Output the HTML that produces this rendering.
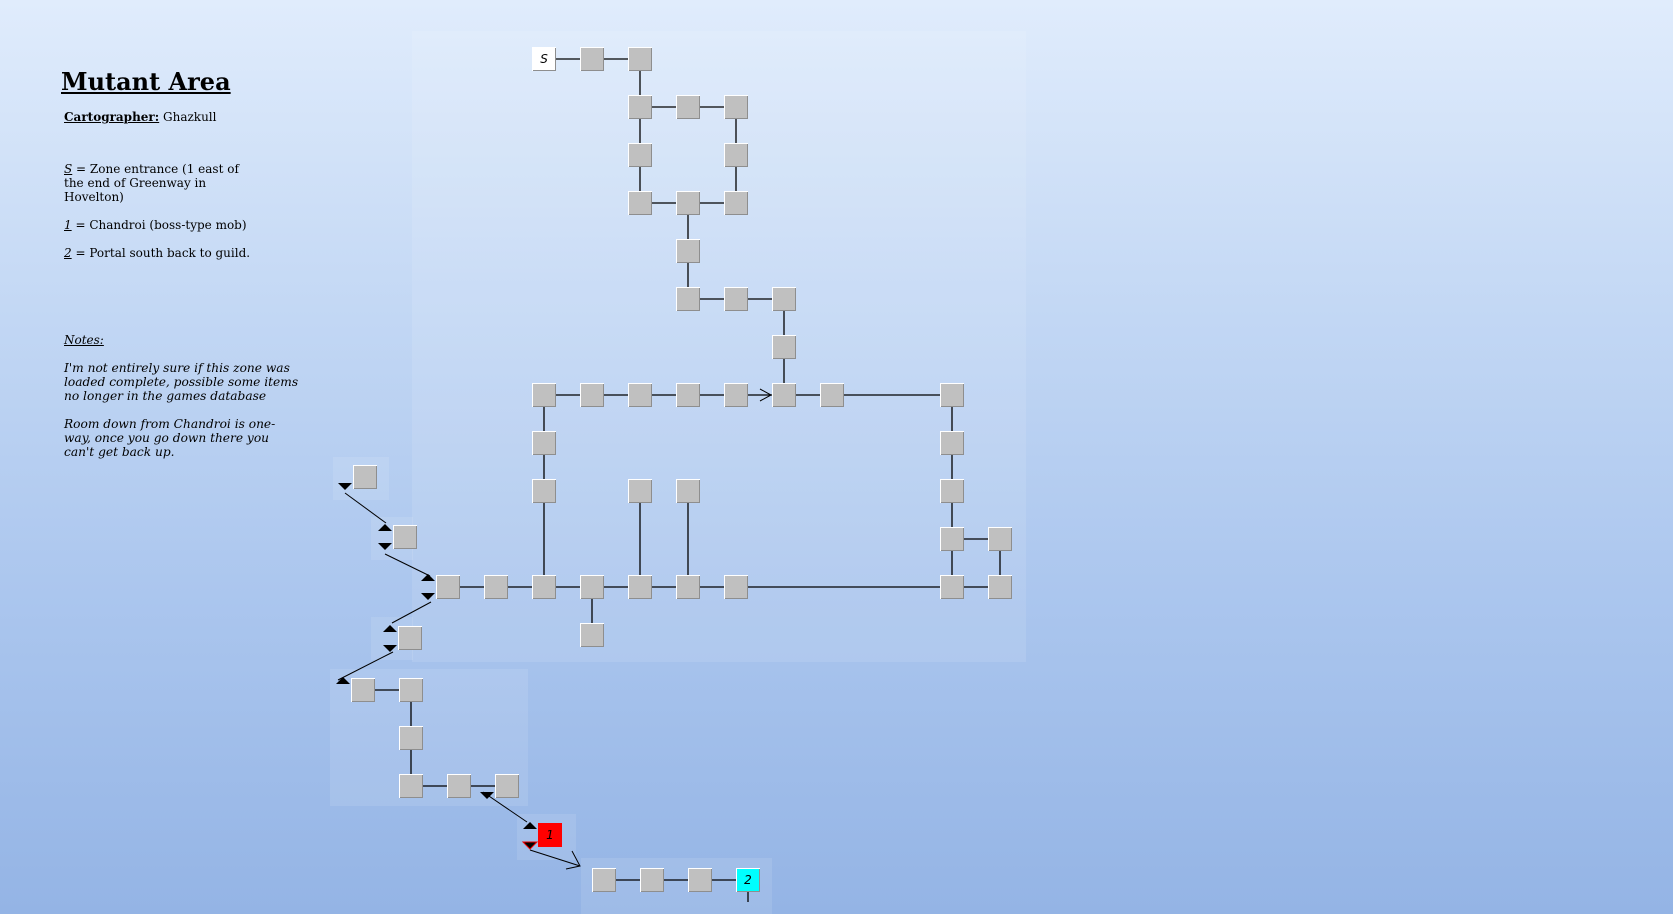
<!DOCTYPE html>
<html><head><meta charset="utf-8">
<style>
html,body{margin:0;padding:0}
body{width:1673px;height:914px;overflow:hidden;position:relative;background:linear-gradient(180deg,#e0ecfc 0%,#c2d7f4 35%,#abc6ee 65%,#94b4e5 100%);font-family:"DejaVu Serif","Liberation Serif",serif;color:#000}
.txt{position:absolute;left:64px;font-size:12px;line-height:14px}
h1{position:absolute;left:61px;top:67px;margin:0;font-size:24px;font-weight:bold;text-decoration:underline;font-family:"DejaVu Serif",serif;letter-spacing:0px}
i{font-style:italic}
svg{position:absolute;left:0;top:0}
</style></head><body>
<h1>Mutant Area</h1>
<div class="txt" style="top:110px"><b><u>Cartographer:</u></b> Ghazkull</div>
<div class="txt" style="top:162px"><u><i>S</i></u> = Zone entrance (1 east of<br>the end of Greenway in<br>Hovelton)</div>
<div class="txt" style="top:218px"><u><i>1</i></u> = Chandroi (boss-type mob)</div>
<div class="txt" style="top:246px"><u><i>2</i></u> = Portal south back to guild.</div>
<div class="txt" style="top:333px;font-style:italic"><u>Notes:</u></div>
<div class="txt" style="top:361px;font-style:italic;font-size:12.2px">I'm not entirely sure if this zone was<br>loaded complete, possible some items<br>no longer in the games database</div>
<div class="txt" style="top:417px;font-style:italic;font-size:12.2px">Room down from Chandroi is one-<br>way, once you go down there you<br>can't get back up.</div>

<svg id="map" width="1673" height="914"></svg>
<script>
const NS="http://www.w3.org/2000/svg";
const svg=document.getElementById('map');
function gx(c){return 436+48*c;}
function gy(r){return 47+48*r;}
const panels=[[412,31,614,631],[333,457,56,43],[371,517,42,43],[371,617,42,43],[330,669,198,137],[517,814,59,46],[581,858,191,56]];
const gridRooms=[[2,0,'S'],[3,0],[4,0],[4,1],[5,1],[6,1],[4,2],[6,2],[4,3],[5,3],[6,3],[5,4],[5,5],[6,5],[7,5],[7,6],
[2,7],[3,7],[4,7],[5,7],[6,7],[7,7],[8,7],[10.5,7],[2,8],[10.5,8],[2,9],[4,9],[5,9],[10.5,9],[10.5,10],[11.5,10],
[0,11],[1,11],[2,11],[3,11],[4,11],[5,11],[6,11],[10.5,11],[11.5,11],[3,12]];
const gridEdges=[[2,0,4,0],[4,0,4,3],[4,1,6,1],[6,1,6,3],[4,3,6,3],[5,3,5,5],[5,5,7,5],[7,5,7,7],[2,7,10.5,7],[2,7,2,11],[4,9,4,11],[5,9,5,11],
[10.5,7,10.5,11],[10.5,10,11.5,10],[11.5,10,11.5,11],[0,11,11.5,11],[3,11,3,12]];
const freeRooms=[[353,465],[393,525],[398,626],[351,678],[399,678],[399,726],[399,774],[447,774],[495,774],[538,823,'1'],[592,868],[640,868],[688,868],[736,868,'2']];
const freeEdges=[[363,690,411,690],[411,690,411,786],[411,786,507,786],[604,880,748,880],[748,892,748,902]];
const diagonals=[[345,493,386,523],[385,554,430,576],[431,602,392,623],[393,652,338,680],[483,792,527,822],[530,850,580,866]];
const tris=[[345,486,'d'],[385,528,'u'],[385,546,'d'],[428,578,'u'],[428,596,'d'],[390,629,'u'],[390,648,'d'],[343,681,'u'],[487,795,'d'],[530,826,'u'],[530,845,'r']];
function mk(t,a){const e=document.createElementNS(NS,t);for(const k in a)e.setAttribute(k,a[k]);svg.appendChild(e);return e;}
panels.forEach(p=>{const e=mk('rect',{x:p[0],y:p[1],width:p[2],height:p[3],fill:'rgba(255,255,255,0.10)'});

});
gridEdges.forEach(d=>{const e=mk('line',{x1:gx(d[0])+12,y1:gy(d[1])+12,x2:gx(d[2])+12,y2:gy(d[3])+12,stroke:'#000','stroke-width':1.3});

});
freeEdges.forEach(d=>{const e=mk('line',{x1:d[0],y1:d[1],x2:d[2],y2:d[3],stroke:'#000','stroke-width':1.3});

});
diagonals.forEach(d=>{const e=mk('line',{x1:d[0],y1:d[1],x2:d[2],y2:d[3],stroke:'#000','stroke-width':1});

});
mk('path',{d:'M760 389 L771 395 L760 401',fill:'none',stroke:'#000','stroke-width':1});
mk('path',{d:'M572 851 L580 866 L566 869',fill:'none',stroke:'#000','stroke-width':1});
tris.forEach(t=>{const x=t[0],y=t[1];let d;
if(t[2]==='u')d=`M${x-7} ${y+3} L${x+7} ${y+3} L${x} ${y-4} Z`;else d=`M${x-7} ${y-3} L${x+7} ${y-3} L${x} ${y+4} Z`;
const e=mk('path',{d:d,fill:'#000',stroke:t[2]==='r'?'#e00':'none','stroke-width':1});

});
function room(x,y,label){
 let fill='#c0c0c0';if(label==='S')fill='#fff';if(label==='1')fill='#f00';if(label==='2')fill='#0ff';
 const g=mk('g',{});
 
 
 const r=document.createElementNS(NS,'rect');
 r.setAttribute('x',x);r.setAttribute('y',y);r.setAttribute('width',24);r.setAttribute('height',24);r.setAttribute('fill',fill);g.appendChild(r);
 if(label!=='1'){
 const p1=document.createElementNS(NS,'path');p1.setAttribute('d',`M${x+0.5} ${y+24} V${y+0.5} H${x+24}`);p1.setAttribute('stroke','#fff');p1.setAttribute('fill','none');g.appendChild(p1);
 const p2=document.createElementNS(NS,'path');p2.setAttribute('d',`M${x+1} ${y+23.5} H${x+23.5} V${y+1}`);p2.setAttribute('stroke','#8e8e8e');p2.setAttribute('fill','none');g.appendChild(p2);}
 if(label){const t=document.createElementNS(NS,'text');t.setAttribute('x',x+12);t.setAttribute('y',y+16);t.setAttribute('text-anchor','middle');
 t.setAttribute('font-family','DejaVu Sans, Liberation Sans, sans-serif');t.setAttribute('font-style','italic');t.setAttribute('font-size','12');t.textContent=label;g.appendChild(t);}
}
gridRooms.forEach(r=>room(gx(r[0]),gy(r[1]),r[2]));
freeRooms.forEach(r=>room(r[0],r[1],r[2]));
</script>
</body></html>
